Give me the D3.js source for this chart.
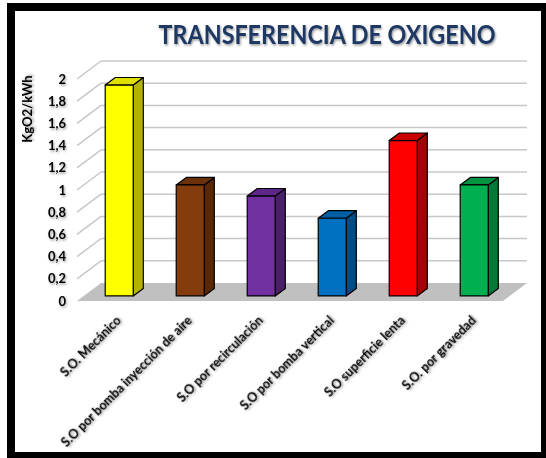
<!DOCTYPE html>
<html>
<head>
<meta charset="utf-8">
<script src="https://cdn.jsdelivr.net/npm/d3@7"></script>
<style>
  body { margin: 0; background: #fff; }
  svg { display: block; }
</style>
</head>
<body>
<div id="chart"></div>
<script>
var categories = ["S.O. Mecánico", "S.O por bomba inyección de aire", "S.O por recirculación",
                  "S.O por bomba vertical", "S.O superficie lenta", "S.O. por gravedad"];
var values = [1.9, 1.0, 0.9, 0.7, 1.4, 1.0];
var yTicks = [0, 0.2, 0.4, 0.6, 0.8, 1, 1.2, 1.4, 1.6, 1.8, 2];
var frontColors = ["#FFFF00", "#843C0C", "#7030A0", "#0070C0", "#FF0000", "#00B050"];
var sideColors  = ["#B4B400", "#582808", "#4A1F6B", "#004C84", "#A80000", "#007A36"];
var topColors   = ["#E0E000", "#6C300A", "#5C2788", "#005EA3", "#C80000", "#009442"];

var width = 546, height = 458;

var svg = d3.select("#chart").append("svg")
    .attr("width", width)
    .attr("height", height);

var defs = svg.append("defs");
var sh = defs.append("filter").attr("id", "shadow")
    .attr("x", "-10%").attr("y", "-20%").attr("width", "130%").attr("height", "160%");
sh.append("feDropShadow").attr("dx", 1).attr("dy", 1.5).attr("stdDeviation", 1.2)
    .attr("flood-color", "#000").attr("flood-opacity", 0.4);

// frame
svg.append("rect").attr("x", 7).attr("y", 3).attr("width", 539).attr("height", 455).attr("fill", "#000");
svg.append("rect").attr("x", 15).attr("y", 11).attr("width", 526).attr("height", 441).attr("fill", "#fff");

// 3d projection: depth 0 = front plane, depth 1 = back wall
var depthX = 24, depthY = -18;
var x = d3.scaleBand().domain(categories).range([77, 503]).paddingInner(0).paddingOuter(0);
var y = d3.scaleLinear().domain([0, 2]).range([301, 79]);
function px(cx, z) { return cx + z * depthX; }
function py(v, z) { return y(v) + z * depthY; }

// floor
var floor = [[77, py(0, 0)], [503, py(0, 0)], [px(503, 1), py(0, 1)], [px(77, 1), py(0, 1)]];
svg.append("polygon").attr("points", floor.join(" ")).attr("fill", "#C0C0C0");

// gridlines: back wall + side diagonals
var grid = svg.append("g").attr("stroke", "#C8C8C8").attr("stroke-width", 1.5).attr("fill", "none");
grid.selectAll(".back").data(yTicks.filter(function(d) { return d > 0; })).enter().append("line")
    .attr("x1", px(77, 1)).attr("x2", px(503, 1))
    .attr("y1", function(d) { return py(d, 1); })
    .attr("y2", function(d) { return py(d, 1); });
grid.selectAll(".side").data(yTicks.filter(function(d) { return d > 0; })).enter().append("line")
    .attr("x1", 77).attr("x2", px(77, 1))
    .attr("y1", function(d) { return py(d, 0); })
    .attr("y2", function(d) { return py(d, 1); });

// bars
var z0 = 0.28, z1 = 0.70, barW = 28;
var bars = svg.append("g").attr("stroke", "#000").attr("stroke-width", 1.2).attr("stroke-linejoin", "round");
categories.forEach(function(c, i) {
  var xl = x(c) + x.bandwidth() / 2 - barW / 2, xr = xl + barW, v = values[i];
  var g = bars.append("g");
  // side face
  g.append("polygon").attr("fill", sideColors[i]).attr("points", [
      [px(xr, z0), py(0, z0)], [px(xr, z1), py(0, z1)], [px(xr, z1), py(v, z1)], [px(xr, z0), py(v, z0)]].join(" "));
  // top face
  g.append("polygon").attr("fill", topColors[i]).attr("points", [
      [px(xl, z0), py(v, z0)], [px(xr, z0), py(v, z0)], [px(xr, z1), py(v, z1)], [px(xl, z1), py(v, z1)]].join(" "));
  // front face
  g.append("rect").attr("fill", frontColors[i])
      .attr("x", px(xl, z0)).attr("y", py(v, z0))
      .attr("width", barW).attr("height", py(0, z0) - py(v, z0));
});

// y axis
var fmt = d3.formatLocale({decimal: ",", thousands: ".", grouping: [3], currency: ["", ""]}).format("~g");
var yAxis = svg.append("g").attr("transform", "translate(66,0)")
    .call(d3.axisLeft(y).tickValues(yTicks).tickSize(0).tickPadding(0).tickFormat(fmt));
yAxis.select(".domain").remove();
yAxis.selectAll("text")
    .attr("font-family", "Lato, 'Open Sans', sans-serif")
    .attr("font-weight", "bold")
    .attr("font-size", 13)
    .attr("fill", "#000")
    .attr("filter", "url(#shadow)");

svg.append("text")
    .attr("transform", "translate(32,109) rotate(-90)")
    .attr("text-anchor", "middle")
    .attr("font-family", "Lato, 'Open Sans', sans-serif")
    .attr("font-weight", "bold")
    .attr("font-size", 13)
    .attr("filter", "url(#shadow)")
    .text("KgO2/kWh");

// category labels
svg.append("g").selectAll("text").data(categories).enter().append("text")
    .attr("transform", function(d) { return "translate(" + (x(d) + x.bandwidth() / 2 + 3) + ",315) rotate(-45)"; })
    .attr("text-anchor", "end")
    .attr("dy", "0.7em")
    .attr("font-family", "Lato, 'Open Sans', sans-serif")
    .attr("font-weight", "bold")
    .attr("font-size", 12.5)
    .attr("filter", "url(#shadow)")
    .text(function(d) { return d; });

// title
svg.append("text")
    .attr("x", 327).attr("y", 44)
    .attr("text-anchor", "middle")
    .attr("font-family", "Lato, 'Open Sans', sans-serif")
    .attr("font-weight", "bold")
    .attr("font-size", 26)
    .attr("textLength", 337)
    .attr("lengthAdjust", "spacingAndGlyphs")
    .attr("fill", "#1F3864")
    .attr("filter", "url(#shadow)")
    .text("TRANSFERENCIA DE OXIGENO");
</script>
</body>
</html>
